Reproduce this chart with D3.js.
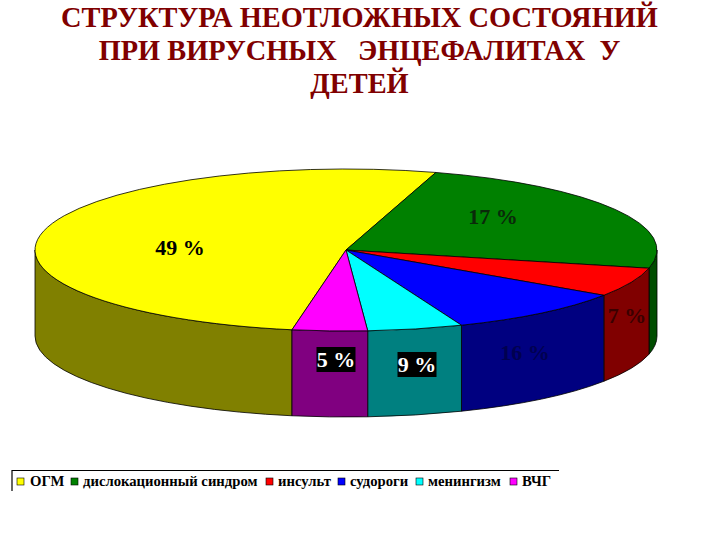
<!DOCTYPE html>
<html>
<head>
<meta charset="utf-8">
<script src="https://cdn.jsdelivr.net/npm/d3@7"></script>
<style>
  html, body { margin: 0; padding: 0; background: #fff; }
  text { font-family: "Liberation Serif", serif; white-space: pre; }
</style>
</head>
<body>
<svg id="my_svg"></svg>
<script>
const height = 540;
const width = 720;

const titleLines = ['СТРУКТУРА НЕОТЛОЖНЫХ СОСТОЯНИЙ', 'ПРИ ВИРУСНЫХ   ЭНЦЕФАЛИТАХ  У', 'ДЕТЕЙ'];
const categories = ['ОГМ', 'дислокационный синдром', 'инсульт', 'судороги', 'менингизм', 'ВЧГ'];
// printed labels
const percentLabels = ['49 %', '17 %', '7 %', '16 %', '9 %', '5 %'];
// slice sizes as they are drawn in the picture (degrees around the ellipse), they differ from the labels
const sliceSizes = [186.8, 86.2, 21, 34.2, 17.8, 14];
const topColors = ['#ffff00', '#008000', '#ff0000', '#0000ff', '#00ffff', '#ff00ff'];
const sideColors = ['#808000', '#004d00', '#800000', '#000080', '#008080', '#800080'];

const svg = d3.select('#my_svg')
  .attr('width', width)
  .attr('height', height)
  .style('display', 'block');

// title
svg.append('g').selectAll('text')
  .data(titleLines)
  .enter().append('text')
  .attr('x', 359.5)
  .attr('y', (d, i) => 27 + i * 33)
  .attr('text-anchor', 'middle')
  .attr('font-size', 28.4)
  .attr('font-weight', 'bold')
  .attr('fill', '#800000')
  .text(d => d);

// pie geometry
const cx = 346, cy = 250, rx = 311, ry = 81, depth = 86;
const toRad = Math.PI / 180;

const pie = d3.pie().sort(null)
  .startAngle(190 * toRad)
  .endAngle(550 * toRad);
const slices = pie(sliceSizes);

const px = a => cx + rx * Math.sin(a);
const py = a => cy - ry * Math.cos(a);

// wall of one slice, only the part on the front half of the ellipse
function wallPath(d) {
  // slices after the yellow one have gone past a full turn
  const turn = d.startAngle >= 2 * Math.PI ? 2 * Math.PI : 0;
  const a0 = Math.max(d.startAngle - turn, 90 * toRad);
  const a1 = Math.min(d.endAngle - turn, 270 * toRad);
  if (a1 <= a0) return null;
  return `M${px(a0)},${py(a0)}` +
    `A${rx},${ry} 0 0 1 ${px(a1)},${py(a1)}` +
    `L${px(a1)},${py(a1) + depth}` +
    `A${rx},${ry} 0 0 0 ${px(a0)},${py(a0) + depth}Z`;
}

svg.append('g')
  .selectAll('path')
  .data(slices.filter(d => wallPath(d)))
  .enter().append('path')
  .attr('d', wallPath)
  .attr('fill', d => sideColors[d.index])
  .attr('stroke', '#000')
  .attr('stroke-width', 0.8);

const arc = d3.arc().innerRadius(0).outerRadius(rx);

svg.append('g')
  .attr('transform', `translate(${cx},${cy}) scale(1,${ry / rx})`)
  .selectAll('path')
  .data(slices)
  .enter().append('path')
  .attr('d', arc)
  .attr('fill', d => topColors[d.index])
  .attr('stroke', '#000')
  .attr('stroke-width', 0.8)
  .attr('vector-effect', 'non-scaling-stroke');

// percent labels, placed by hand like in the slide
const labelSpots = [
  { x: 180, y: 255 },
  { x: 493, y: 224 },
  { x: 627, y: 323 },
  { x: 525, y: 360 },
  { x: 417, y: 372 },
  { x: 336, y: 367 }
];
const boxed = [false, false, false, false, true, true];
const labelInk = ['#000', '#0a2a0a', '#3a0000', '#000050', '#fff', '#fff'];

const labels = svg.append('g').selectAll('g')
  .data(percentLabels)
  .enter().append('g')
  .attr('transform', (d, i) => `translate(${labelSpots[i].x},${labelSpots[i].y})`);

labels.filter((d, i) => boxed[i]).append('rect')
  .attr('x', -19.5)
  .attr('y', -20)
  .attr('width', 39)
  .attr('height', 25)
  .attr('fill', '#000');

labels.append('text')
  .attr('text-anchor', 'middle')
  .attr('font-size', 22)
  .attr('font-weight', 'bold')
  .attr('fill', (d, i) => labelInk[i])
  .text(d => d);

// legend
const legendX = [17, 71, 266, 338, 416, 510];
const legend = svg.append('g');

legend.append('path')
  .attr('d', 'M12,491V470.5H559')
  .attr('fill', 'none')
  .attr('stroke', '#000')
  .attr('stroke-width', 1.2);

const legendItem = legend.selectAll('g')
  .data(categories)
  .enter().append('g')
  .attr('transform', (d, i) => `translate(${legendX[i]},478)`);

legendItem.append('rect')
  .attr('width', 7)
  .attr('height', 7)
  .attr('fill', (d, i) => topColors[i])
  .attr('stroke', '#000')
  .attr('stroke-width', 0.6);

legendItem.append('text')
  .attr('x', (d, i) => i === 0 ? 13 : 12)
  .attr('y', 8)
  .attr('font-size', 14.7)
  .attr('font-weight', 'bold')
  .text(d => d);
</script>
</body>
</html>
